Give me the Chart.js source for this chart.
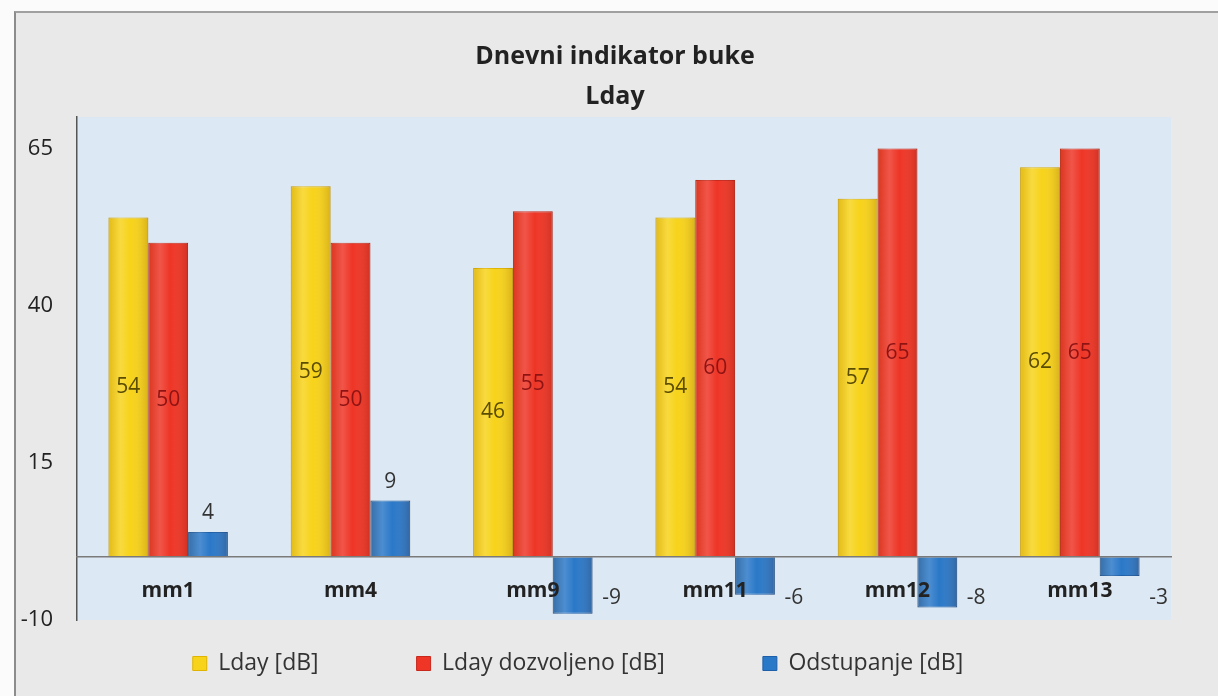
<!DOCTYPE html>
<html><head><meta charset="utf-8">
<script src="https://cdn.jsdelivr.net/npm/chart.js@4/dist/chart.umd.min.js"></script>
<style>
html,body{margin:0;padding:0;width:1218px;height:696px;overflow:hidden;background:#fbfbfb;}
#frame{position:absolute;left:14px;top:11px;right:0;bottom:0;background:#e9e9e9;border-left:2px solid #8c8c8c;border-top:2px solid #a0a0a0;}
#wrap{position:absolute;left:0;top:0;width:1218px;height:696px;}
</style></head><body>
<div id="frame"></div>
<div id="wrap"><canvas id="c" width="1218" height="696"></canvas></div>
<script>
const categories = ['mm1','mm4','mm9','mm11','mm12','mm13'];
const ldayValues = [54,59,46,54,57,62];
const allowedValues = [50,50,55,60,65,65];
const deviationValues = [4,9,-9,-6,-8,-3];
const seriesNames = ['Lday [dB]','Lday dozvoljeno [dB]','Odstupanje [dB]'];
const seriesColors = ['#f7d31a','#ee3526','#2a78c8'];
const labelColors = ['#5a4c00','#8e1414','#333333'];
const yTickValues = [-10,15,40,65];
const titleLines = ['Dnevni indikator buke','Lday'];

const FONT = '"Open Sans", Lato, sans-serif';

const plotBg = {
  id:'plotBg',
  beforeDraw(chart){
    const {ctx, chartArea:a} = chart;
    ctx.save();
    ctx.fillStyle = '#dce8f3';
    ctx.fillRect(a.left, a.top, a.right-a.left, a.bottom-a.top);
    ctx.restore();
  }
};

const barShade = {
  id:'barShade',
  afterDatasetsDraw(chart){
    const ctx = chart.ctx;
    chart.data.datasets.forEach((ds,i)=>{
      chart.getDatasetMeta(i).data.forEach(bar=>{
        const p = bar.getProps(['x','y','base','width'], true);
        const l = p.x - p.width/2, r = p.x + p.width/2;
        const top = Math.min(p.y,p.base), h = Math.abs(p.base-p.y);
        const g = ctx.createLinearGradient(l,0,r,0);
        g.addColorStop(0,'rgba(120,60,0,0.16)');
        g.addColorStop(0.3,'rgba(255,255,255,0.16)');
        g.addColorStop(0.55,'rgba(255,255,255,0.0)');
        g.addColorStop(1,'rgba(80,20,0,0.18)');
        ctx.save();
        ctx.fillStyle = g;
        ctx.fillRect(l, top, r-l, h);
        ctx.restore();
      });
    });
  }
};

const valueLabels = {
  id:'valueLabels',
  afterDatasetsDraw(chart){
    const ctx = chart.ctx;
    ctx.save();
    ctx.font = '21px ' + FONT;
    ctx.textAlign = 'center';
    ctx.textBaseline = 'middle';
    chart.data.datasets.forEach((ds,i)=>{
      chart.getDatasetMeta(i).data.forEach((bar,j)=>{
        const v = ds.data[j];
        const p = bar.getProps(['x','y','base','width'], true);
        ctx.fillStyle = labelColors[i];
        if (i < 2) {
          ctx.fillText(String(v), p.x, (p.y+p.base)/2);
        } else if (v >= 0) {
          ctx.fillText(String(v), p.x, p.y - 19);
        } else {
          ctx.fillText(String(v), p.x + p.width/2 + 19, p.base + 41);
        }
      });
    });
    ctx.restore();
  }
};

const boxShift = {
  id:'boxShift',
  afterLayout(chart){
    const l = chart.legend;
    const pad = l.options.labels.padding;
    const desiredTop = 652;
    l.top = desiredTop - pad;
    l.bottom = chart.height;
    l.height = l.bottom - l.top;
    l.left -= 16; l.right -= 16;
    const t = chart.titleBlock;
    t.left += 21; t.right += 21;
  }
};

new Chart(document.getElementById('c'), {
  type:'bar',
  data:{
    labels: categories,
    datasets:[
      {label:seriesNames[0], data:ldayValues, backgroundColor:seriesColors[0], borderColor:'#e0b400', borderWidth:1},
      {label:seriesNames[1], data:allowedValues, backgroundColor:seriesColors[1], borderColor:'#c8281c', borderWidth:1},
      {label:seriesNames[2], data:deviationValues, backgroundColor:seriesColors[2], borderColor:'#1d5fa8', borderWidth:1}
    ]
  },
  options:{
    responsive:false,
    animation:false,
    devicePixelRatio:1,
    datasets:{bar:{barPercentage:1.0, categoryPercentage:0.655}},
    layout:{padding:{top:8,left:17,right:47,bottom:26}},
    plugins:{
      title:{display:true, text:titleLines, color:'#222', font:{family:FONT, size:25, weight:'bold', lineHeight:1.6}, padding:{top:29,bottom:0}},
      legend:{position:'bottom', maxHeight:50,
        labels:{color:'#333', font:{family:FONT, size:23}, boxWidth:14, boxHeight:14, padding:98}},
      tooltip:{enabled:false}
    },
    scales:{
      x:{
        position:{y:0},
        grid:{display:false, drawTicks:false},
        border:{display:true, color:'#7a7a7a', width:1.5, z:1},
        ticks:{z:2, color:'#222', font:{family:FONT, size:21, weight:'bold'}, padding:21, maxRotation:0}
      },
      y:{
        min:-10, max:70,
        afterBuildTicks(scale){ scale.ticks = yTickValues.map(v=>({value:v})); },
        afterFit(scale){ scale.width = 60; },
        grid:{display:false, drawTicks:false},
        border:{display:true, color:'#555', width:1.5},
        ticks:{color:'#222', font:{family:FONT, size:22}, padding:24}
      }
    }
  },
  plugins:[plotBg, barShade, valueLabels, boxShift]
});
</script>
</body></html>
